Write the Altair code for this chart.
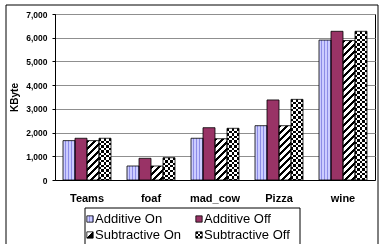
import altair as alt

# ---------------- data ----------------
CATS = ["Teams", "foaf", "mad_cow", "Pizza", "wine"]
SERIES = ["Additive On", "Additive Off", "Subtractive On", "Subtractive Off"]
ADD_ON = [1660, 590, 1760, 2290, 5900]
ADD_OFF = [1760, 915, 2205, 3375, 6270]
SUB_ON = [1660, 590, 1740, 2290, 5880]
SUB_OFF = [1760, 940, 2180, 3400, 6270]
Y_TICKS = [0, 1000, 2000, 3000, 4000, 5000, 6000, 7000]

# ---------------- layout / style constants ----------------
PLOT_W, PLOT_H, YMAX = 320, 166, 7000
BAR_W = PLOT_W / len(CATS) * 0.75 / len(SERIES)
FONT = "Liberation Sans"


def stripe_stops(pattern, periods):
    stops = []
    for k in range(periods):
        pos = k / periods
        for color, frac in pattern:
            end = pos + frac / periods
            stops.append({"offset": round(pos, 5), "color": color})
            stops.append({"offset": round(end, 5), "color": color})
            pos = end
    return stops


def cell_stops(colors, n):
    stops = []
    for k in range(n):
        c = colors[k % len(colors)]
        stops.append({"offset": round(k / n, 5), "color": c})
        stops.append({"offset": round((k + 1) / n, 5), "color": c})
    return stops


def linear(x2, y2, stops):
    return {"gradient": "linear", "x1": 0, "y1": 0, "x2": x2, "y2": y2, "stops": stops}


LAV = [("#ccccff", 0.62), ("#8c8ce6", 0.38)]
DIAG_L = 168.0
CHECK_L = 168.0


def bar_paint(series, value):
    h = max(value / YMAX * PLOT_H, 1.0)
    if series == "Additive On":
        return linear(1, 0, stripe_stops(LAV, 4))
    if series == "Additive Off":
        return "#993366"
    if series == "Subtractive On":
        d = BAR_W ** 2 + h ** 2
        return linear(DIAG_L * BAR_W / d, DIAG_L * h / d,
                      stripe_stops([("black", 0.45), ("white", 0.55)], 24))
    return linear(1, 0, cell_stops(["black", "white"], 5))


def bar_overlay(series, value):
    h = max(value / YMAX * PLOT_H, 1.0)
    return linear(0, CHECK_L / h, cell_stops(["black", "white"], 70))


def legend_paint(series):
    if series == "Additive On":
        return linear(1, 0, stripe_stops(LAV, 2))
    if series == "Additive Off":
        return "#993366"
    if series == "Subtractive On":
        return linear(1, 1, [{"offset": 0, "color": "white"}, {"offset": 0.45, "color": "white"},
                             {"offset": 0.45, "color": "black"}, {"offset": 1, "color": "black"}])
    return linear(1, 0, cell_stops(["black", "white", "black"], 3))


rows = []
for i, cat in enumerate(CATS):
    for s, arr in zip(SERIES, [ADD_ON, ADD_OFF, SUB_ON, SUB_OFF]):
        v = arr[i]
        rows.append({"cat": cat, "series": s, "value": v,
                     "paint": bar_paint(s, v), "paint2": bar_overlay(s, v)})

leg_rows = []
for i, s in enumerate(SERIES):
    leg_rows.append({"series": s, "lx": i % 2, "ly": i // 2, "paint": legend_paint(s),
                     "paint2": linear(0, 1, cell_stops(["black", "white", "black"], 3))})

# ---------------- bars ----------------
base = alt.Chart(alt.Data(values=rows))
x_enc = alt.X("cat:N", sort=CATS,
              scale=alt.Scale(domain=CATS, paddingInner=0.25, paddingOuter=0.125),
              axis=alt.Axis(title=None, labelAngle=0, ticks=False, labelPadding=12,
                            labelFontSize=11, grid=False))
xo_enc = alt.XOffset("series:N", sort=SERIES,
                     scale=alt.Scale(domain=SERIES, paddingInner=0, paddingOuter=0))
y_enc = alt.Y("value:Q", stack=None, scale=alt.Scale(domain=[0, YMAX], nice=False),
              axis=alt.Axis(values=Y_TICKS, format=",.0f", title="KByte", grid=True,
                            gridColor="#8f8f8f", gridWidth=1, tickSize=3, labelPadding=5,
                            labelFontSize=8.5, titleFontSize=10, titlePadding=6))

bars = base.mark_bar(opacity=1, strokeWidth=0).encode(
    x=x_enc, xOffset=xo_enc, y=y_enc,
    fill=alt.Fill("paint:N", scale=None, legend=None))
overlay = base.transform_filter(alt.datum.series == "Subtractive Off").mark_bar(
    opacity=1, strokeWidth=0, blend="difference").encode(
    x=x_enc, xOffset=xo_enc, y=y_enc,
    fill=alt.Fill("paint2:N", scale=None, legend=None))
outline = base.mark_bar(opacity=1, fillOpacity=0, stroke="black", strokeWidth=0.8).encode(
    x=x_enc, xOffset=xo_enc, y=y_enc)
bar_group = alt.layer(bars, overlay, outline)

# ---------------- legend ----------------
lbase = alt.Chart(alt.Data(values=leg_rows))
lx = alt.X("lx:Q", scale=alt.Scale(domain=[0, 1], range=[35, 144]), axis=None)
ly = alt.Y("ly:Q", scale=alt.Scale(domain=[0, 1], range=[205, 221]), axis=None)
leg_sym = lbase.mark_square(size=40, opacity=1, strokeWidth=0).encode(
    x=lx, y=ly, fill=alt.Fill("paint:N", scale=None, legend=None))
leg_over = lbase.transform_filter(alt.datum.series == "Subtractive Off").mark_square(
    size=40, opacity=1, strokeWidth=0, blend="difference").encode(
    x=lx, y=ly, fill=alt.Fill("paint2:N", scale=None, legend=None))
leg_out = lbase.mark_square(size=40, opacity=1, fillOpacity=0, stroke="black",
                            strokeWidth=0.8).encode(x=lx, y=ly)
leg_txt = lbase.mark_text(align="left", baseline="middle", dx=5, fontSize=13,
                          font=FONT, color="black").encode(x=lx, y=ly, text="series:N")
leg_box = alt.Chart(alt.Data(values=[{}])).mark_rect(
    fillOpacity=0, stroke="black", strokeWidth=1).encode(
    x=alt.value(30), x2=alt.value(245), y=alt.value(194), y2=alt.value(250))
frame = alt.Chart(alt.Data(values=[{}])).mark_rect(
    fillOpacity=0, stroke="black", strokeWidth=1).encode(
    x=alt.value(-49), x2=alt.value(323), y=alt.value(-9), y2=alt.value(250))
legend_group = alt.layer(leg_box, leg_sym, leg_over, leg_out, leg_txt, frame)

chart = alt.layer(bar_group, legend_group).resolve_scale(
    x="independent", y="independent"
).properties(
    width=PLOT_W, height=PLOT_H,
    autosize=alt.AutoSizeParams(type="none"),
    padding={"left": 55, "top": 14, "right": 12, "bottom": 64},
    background="white",
).configure_view(
    stroke="black", strokeWidth=1
).configure_axis(
    labelFont=FONT, titleFont=FONT, labelFontWeight="bold", titleFontWeight="bold",
    labelColor="black", titleColor="black", domainColor="black", tickColor="black",
    domainWidth=1
)

chart.save("out.html", embed_options={"renderer": "svg", "actions": False})
